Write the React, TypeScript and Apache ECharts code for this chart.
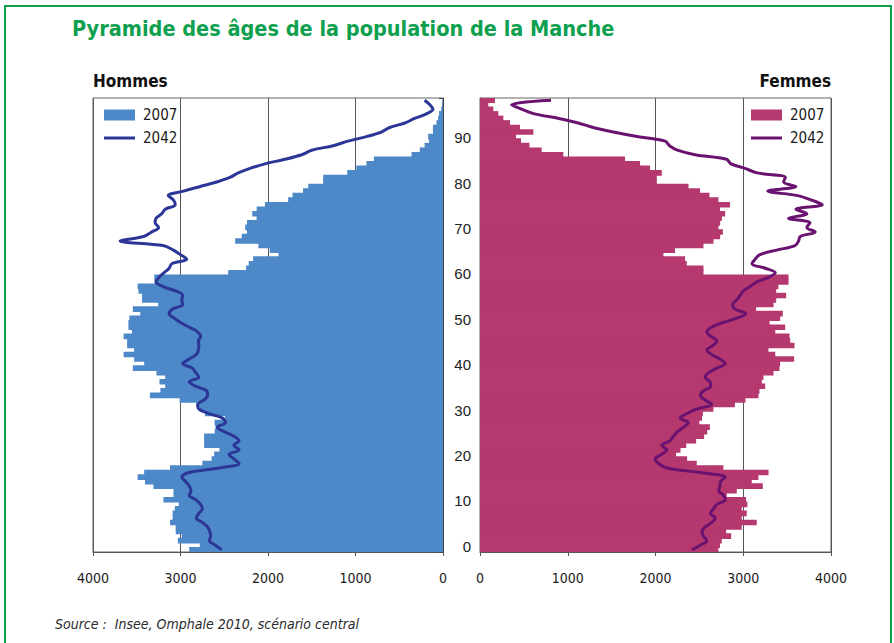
import React, { useEffect, useRef } from "react";
import * as echarts from "echarts";

const ages: string[] = Array.from({ length: 100 }, (_, i) => String(i));
const xTicks = [0, 1000, 2000, 3000, 4000];

const hommes2007 = [
  2900, 2780, 3030, 2985, 3055, 3055, 3120, 3090, 3090, 3065,
  3020, 3195, 3080, 3080, 3310, 3405, 3490, 3415, 3120, 2750,
  2645, 2615, 2555, 2730, 2730, 2730, 2610, 2600, 2610, 2490,
  2720, 2780, 2800, 3010, 3350, 3230, 3175, 3240, 3175, 3275,
  3545, 3415, 3530, 3650, 3530, 3610, 3610, 3650, 3555, 3595,
  3595, 3585, 3460, 3545, 3255, 3440, 3440, 3480, 3490, 3295,
  3300, 2455, 2250, 2220, 2170, 1880, 1980, 2110, 2375, 2300,
  2240, 2260, 2240, 2130, 2180, 2130, 2035, 1770, 1720, 1600,
  1540, 1370, 1370, 1095, 990, 875, 790, 360, 265, 210,
  160, 170, 115, 115, 75, 55, 45, 20, 10, 5,
];

const hommes2042 = [
  2530, 2600, 2670, 2655, 2665, 2690, 2750, 2820, 2790, 2750,
  2770, 2825, 2900, 2880, 2900, 2940, 2985, 2900, 2560, 2330,
  2390, 2445, 2330, 2390, 2330, 2390, 2500, 2580, 2485, 2520,
  2675, 2790, 2805, 2730, 2690, 2700, 2825, 2900, 2790, 2825,
  2865, 2975, 2900, 2820, 2795, 2790, 2795, 2770, 2805, 2900,
  2995, 3070, 3130, 3090, 2975, 2985, 2975, 3055, 3205, 3280,
  3245, 3190, 3130, 3100, 2930, 3000, 3080, 3200, 3690, 3420,
  3330, 3250, 3290, 3280, 3215, 3175, 3060, 3080, 3140, 2965,
  2775, 2585, 2435, 2340, 2205, 2035, 1805, 1615, 1500, 1255,
  1085, 875, 705, 610, 435, 325, 190, 115, 150, 210,
];

const femmes2007 = [
  2717, 2735, 2755, 2862, 2805, 2983, 3154, 2983, 3040, 2983,
  3047, 3032, 2812, 2926, 3223, 3097, 3173, 3288, 2774, 2470,
  2360, 2235, 2285, 2350, 2463, 2554, 2590, 2620, 2500, 2530,
  2540, 2660, 2905, 3025, 3174, 3185, 3250, 3212, 3230, 3345,
  3413, 3420, 3580, 3365, 3287, 3584, 3535, 3527, 3365, 3478,
  3300, 3421, 3451, 3147, 3345, 3375, 3489, 3375, 3400, 3516,
  3516, 2547, 2547, 2356, 2337, 2090, 2223, 2547, 2661, 2737,
  2768, 2718, 2737, 2756, 2794, 2735, 2850, 2717, 2615, 2508,
  2376, 2015, 2015, 2072, 1938, 1824, 1653, 950, 703, 563,
  467, 410, 608, 456, 342, 266, 209, 152, 95, 171,
];

const femmes2042 = [
  2415, 2510, 2585, 2545, 2530, 2565, 2640, 2680, 2625, 2660,
  2700, 2795, 2775, 2720, 2735, 2740, 2795, 2510, 2130, 2035,
  1995, 2070, 2130, 2070, 2165, 2205, 2250, 2320, 2375, 2280,
  2360, 2470, 2640, 2565, 2510, 2545, 2630, 2620, 2565, 2605,
  2700, 2795, 2735, 2640, 2585, 2655, 2700, 2630, 2585, 2640,
  2760, 2925, 3030, 2905, 2880, 2925, 2965, 3000, 3080, 3155,
  3290, 3365, 3250, 3100, 3135, 3190, 3380, 3590, 3630, 3650,
  3820, 3725, 3760, 3515, 3725, 3600, 3900, 3780, 3620, 3280,
  3600, 3460, 3480, 3160, 3020, 2860, 2810, 2450, 2250, 2160,
  2110, 1790, 1520, 1290, 1120, 900, 620, 480, 360, 810,
];

const NARROW = "'Liberation Sans Narrow', 'DejaVu Sans Condensed', sans-serif";
const BLUE = "#4d89c8";
const NAVY = "#2b3697";
const MAGENTA = "#b5396f";
const PURPLE = "#69126f";
const GREEN = "#0ea04f";
const LINE_ICON = "path://M0,0 L31,0 L31,3 L0,3 Z";

export default function App() {
  const ref = useRef<HTMLDivElement>(null);

  useEffect(() => {
    if (!ref.current) return;
    const chart = echarts.init(ref.current, undefined, { renderer: "svg" });

    const valueAxis = (gridIndex: number, inverse: boolean) => ({
      type: "value",
      gridIndex,
      inverse,
      min: 0,
      max: 4000,
      interval: 1000,
      axisLine: { show: true, lineStyle: { color: "#555", width: 1 } },
      axisTick: { show: true, length: 4, lineStyle: { color: "#555" } },
      axisLabel: {
        margin: 19,
        fontSize: 14,
        fontFamily: NARROW,
        color: "#1a1a1a",
        formatter: (v: number) => (xTicks.includes(v) ? String(v) : ""),
      },
      splitLine: { show: true, lineStyle: { color: "#555", width: 1 } },
    });

    const legendBase = {
      orient: "vertical",
      top: 107,
      padding: 0,
      itemWidth: 31,
      itemHeight: 11,
      itemGap: 7,
      symbolKeepAspect: true,
      textStyle: {
        fontSize: 15,
        fontFamily: NARROW,
        color: "#1a1a1a",
        lineHeight: 16,
        padding: [0, 0, 0, 3],
      },
      formatter: (n: string) => n.slice(1),
    };

    chart.setOption({
      animation: false,
      backgroundColor: "#ffffff",
      title: {
        text: "Pyramide des âges de la population de la Manche",
        left: 72,
        top: 17,
        padding: 0,
        textStyle: {
          fontSize: 21.5,
          fontWeight: "bold",
          fontFamily: NARROW,
          color: GREEN,
        },
      },
      legend: [
        {
          ...legendBase,
          left: 104,
          data: [
            { name: "H2007", icon: "rect" },
            { name: "H2042", icon: LINE_ICON },
          ],
        },
        {
          ...legendBase,
          left: 751,
          data: [
            { name: "F2007", icon: "rect" },
            { name: "F2042", icon: LINE_ICON },
          ],
        },
      ],
      grid: [
        {
          left: 93,
          top: 98,
          width: 350,
          height: 454,
          show: true,
          borderColor: "#666",
          borderWidth: 1,
          backgroundColor: "transparent",
        },
        {
          left: 480,
          top: 98,
          width: 351,
          height: 454,
          show: true,
          borderColor: "#666",
          borderWidth: 1,
          backgroundColor: "transparent",
        },
      ],
      xAxis: [valueAxis(0, true), valueAxis(1, false)],
      yAxis: [
        {
          type: "category",
          gridIndex: 0,
          data: ages,
          position: "right",
          axisLine: { show: true, lineStyle: { color: "#444" } },
          axisTick: {
            show: true,
            inside: true,
            length: 4,
            interval: (i: number) => i % 10 === 0,
            lineStyle: { color: "#444" },
          },
          axisLabel: { show: false },
          splitLine: { show: false },
        },
        {
          type: "category",
          gridIndex: 1,
          data: ages,
          position: "left",
          axisLine: { show: true, lineStyle: { color: "#444" } },
          axisTick: { show: false },
          axisLabel: {
            show: true,
            interval: (i: number) => i % 10 === 0,
            margin: 9,
            align: "right",
            verticalAlign: "bottom",
            lineHeight: 7,
            fontSize: 15,
            fontFamily: "'Liberation Sans', Arial, sans-serif",
            color: "#222",
          },
          splitLine: { show: false },
        },
      ],
      series: [
        {
          name: "H2007",
          type: "bar",
          xAxisIndex: 0,
          yAxisIndex: 0,
          data: hommes2007,
          barWidth: 5.6,
          itemStyle: { color: BLUE },
        },
        {
          name: "H2042",
          type: "line",
          xAxisIndex: 0,
          yAxisIndex: 0,
          data: hommes2042,
          symbol: "none",
          smooth: 0.35,
          lineStyle: { color: NAVY, width: 3 },
          itemStyle: { color: NAVY },
        },
        {
          name: "F2007",
          type: "bar",
          xAxisIndex: 1,
          yAxisIndex: 1,
          data: femmes2007,
          barWidth: 5.6,
          itemStyle: { color: MAGENTA },
        },
        {
          name: "F2042",
          type: "line",
          xAxisIndex: 1,
          yAxisIndex: 1,
          data: femmes2042,
          symbol: "none",
          smooth: 0.35,
          lineStyle: { color: PURPLE, width: 3 },
          itemStyle: { color: PURPLE },
        },
      ],
      graphic: [
        {
          type: "rect",
          silent: true,
          z: -10,
          shape: { x: 5, y: 6, width: 886, height: 700 },
          style: { fill: "none", stroke: GREEN, lineWidth: 2 },
        },
        {
          type: "text",
          x: 93,
          y: 81,
          style: {
            text: "Hommes",
            fontSize: 17,
            fontWeight: "bold",
            fontFamily: NARROW,
            fill: "#111",
            align: "left",
            verticalAlign: "middle",
          },
        },
        {
          type: "text",
          x: 831,
          y: 81,
          style: {
            text: "Femmes",
            fontSize: 17,
            fontWeight: "bold",
            fontFamily: NARROW,
            fill: "#111",
            align: "right",
            verticalAlign: "middle",
          },
        },
        {
          type: "text",
          x: 55,
          y: 624,
          style: {
            text: "Source :  Insee, Omphale 2010, scénario central",
            fontSize: 14,
            fontStyle: "italic",
            fontFamily: NARROW,
            fill: "#2a2a2a",
            align: "left",
            verticalAlign: "middle",
          },
        },
      ],
    });

    return () => chart.dispose();
  }, []);

  return (
    <div
      ref={ref}
      style={{ position: "absolute", left: 0, top: 0, width: 894, height: 643 }}
    />
  );
}
